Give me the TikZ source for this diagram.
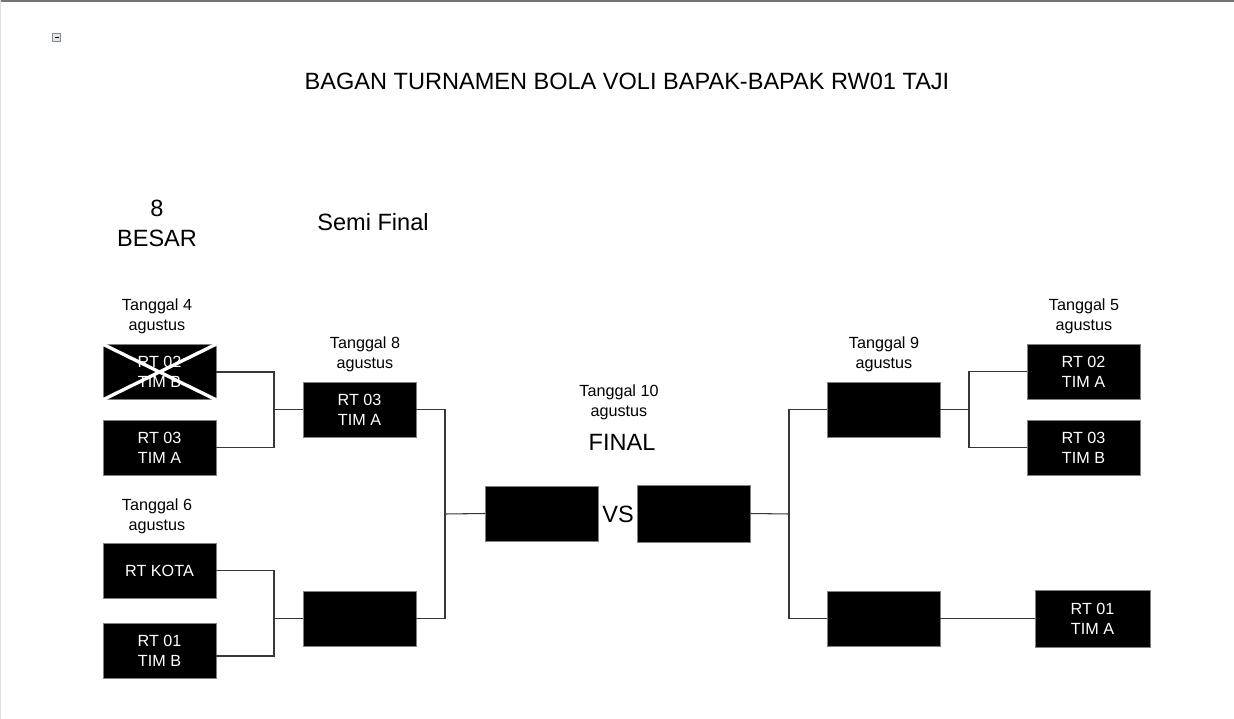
\documentclass[tikz,border=0pt]{standalone}
\usepackage{fontspec}
\setmainfont{Liberation Sans}
\usepackage{tikz}
\usetikzlibrary{positioning}
\definecolor{BoxEdge}{RGB}{128,128,128}
\definecolor{WireGray}{RGB}{55,55,55}
\definecolor{IconEdge}{RGB}{128,140,165}

\begin{document}
\begin{tikzpicture}[x=0.02cm,y=-0.02cm,
  b/.style={rectangle,fill=black,draw=BoxEdge,line width=0.5pt,text=white,minimum width=2.26cm,minimum height=1.1cm,inner sep=0pt,align=center,font=\fontsize{9.2}{11.3}\selectfont},
  lbl/.style={align=center,inner sep=0pt,font=\fontsize{9.2}{11.3}\selectfont},
  big/.style={align=center,inner sep=0pt,font=\fontsize{13.4}{17}\selectfont},
  wire/.style={draw=WireGray,line width=0.6pt}
]
  \useasboundingbox (0,0) rectangle (1234,719);
  \draw[black!55,line width=1pt] (0,0.8)--(1234,0.8);
  \draw[black!12,line width=0.6pt] (0.5,0)--(0.5,719);
  \node[draw=IconEdge,fill=black!10,line width=0.5pt,minimum size=0.17cm,inner sep=0pt] (icon) at (56.5,37.5) {};
  \draw[line width=0.7pt] (54.5,37.5)--(58.5,37.5);

  \node[big] (title) at (627,81) {BAGAN TURNAMEN BOLA VOLI BAPAK-BAPAK RW01 TAJI};
  \node[big] (besar) at (157,223) {8\\BESAR};
  \node[big] (semi) at (373,222) {Semi Final};
  \node[big] (final) at (622,442) {FINAL};

  \node[lbl] (d4) at (157,316) {Tanggal 4\\agustus};
  \node[lbl] (d6) at (157,516) {Tanggal 6\\agustus};
  \node[lbl] (d8) at (365,354) {Tanggal 8\\agustus};
  \node[lbl] (d10) at (619,402) {Tanggal 10\\agustus};
  \node[lbl] (d9) at (884,354) {Tanggal 9\\agustus};
  \node[lbl] (d5) at (1084,316) {Tanggal 5\\agustus};

  \node[b] (q1) at (159.5,372) {RT 02\\TIM B};
  \draw[white,line width=1.9pt] (q1.north west)--(q1.south east) (q1.south west)--(q1.north east);
  \node[b] (q2) at (159.5,447.5) {RT 03\\TIM A};
  \node[b] (q3) at (159.5,570.5) {RT KOTA};
  \node[b] (q4) at (159.5,650.5) {RT 01\\TIM B};
  \node[b] (s1) at (359.5,409.5) {RT 03\\TIM A};
  \node[b] (s2) at (359.5,618.5) {};
  \node[b] (f1) at (542,513.5) {};
  \node[big] (vs) at (618,514) {VS};
  \node[b,minimum height=1.14cm] (f2) at (693.5,513.5) {};
  \node[b] (t1) at (883.5,409.5) {};
  \node[b] (t2) at (883.5,618.5) {};
  \node[b] (r1) at (1083.5,371.5) {RT 02\\TIM A};
  \node[b] (r2) at (1083.5,447.5) {RT 03\\TIM B};
  \node[b,minimum width=2.3cm,minimum height=1.14cm] (r3) at (1092.5,618.5) {RT 01\\TIM A};

  \coordinate (j1) at (274,409.5);
  \coordinate (j2) at (274,618.5);
  \coordinate (j3) at (445,514);
  \coordinate (j4) at (789,514);
  \coordinate (j5) at (969,409.5);
  \draw[wire] (q1.east) -| (j1) |- (q2.east);
  \draw[wire] (j1)--(s1.west);
  \draw[wire] (q3.east) -| (j2) |- ([yshift=-0.11cm]q4.east);
  \draw[wire] (j2)--(s2.west);
  \draw[wire] (s1.east) -| (j3) |- (s2.east);
  \draw[wire] (j3)--(f1.west);
  \draw[wire] (f2.east)--(j4);
  \draw[wire] (t1.west) -| (j4) |- (t2.west);
  \draw[wire] (r1.west) -| (j5) |- (r2.west);
  \draw[wire] (j5)--(t1.east);
  \draw[wire] (t2.east)--(r3.west);
\end{tikzpicture}
\end{document}
